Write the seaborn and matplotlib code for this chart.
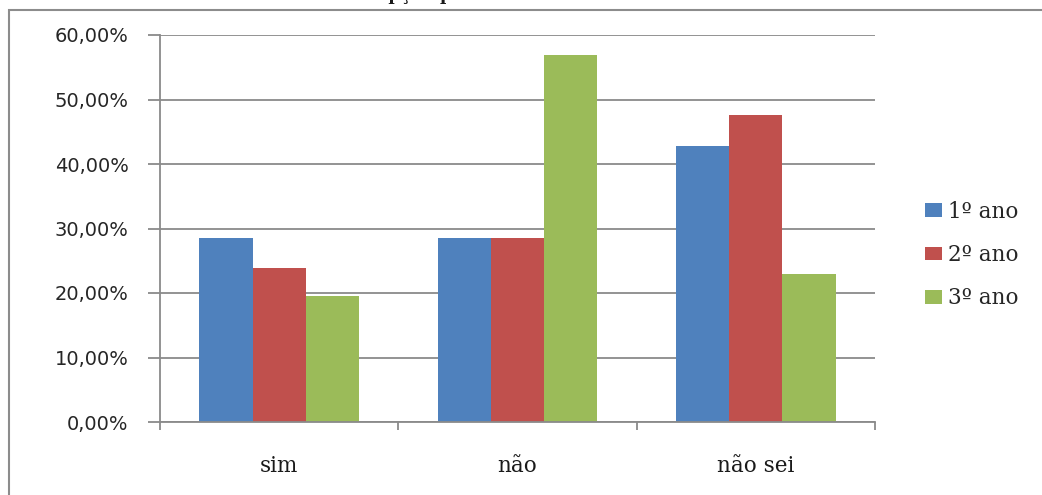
import matplotlib
matplotlib.use("Agg")
import matplotlib.pyplot as plt
import seaborn as sns
import pandas as pd
from matplotlib.ticker import FuncFormatter, FixedLocator
from matplotlib.patches import Rectangle

categories = ["sim", "não", "não sei"]
series = ["1º ano", "2º ano", "3º ano"]
ano1 = [28.57, 28.57, 42.86]
ano2 = [23.81, 28.57, 47.62]
ano3 = [19.5, 56.9, 22.9]
colors = ["#4F81BD", "#C0504D", "#9BBB59"]
yticks = [0, 10, 20, 30, 40, 50, 60]
title = "Gráfico 3 - Opção por área de trabalho no ensino médio"

rows = []
for s, vals in zip(series, [ano1, ano2, ano3]):
    for c, v in zip(categories, vals):
        rows.append({"cat": c, "serie": s, "val": v})
df = pd.DataFrame(rows)

sns.set_style("white")
plt.rcParams["font.family"] = ["DejaVu Sans"]

W, H = 1042, 495
fig = plt.figure(figsize=(W / 100, H / 100), dpi=100)
ax = fig.add_axes([160 / W, 1 - 422 / H, (875 - 160) / W, (422 - 35) / H])

sns.barplot(data=df, x="cat", y="val", hue="serie", order=categories,
            hue_order=series, palette=colors, saturation=1, width=0.67,
            linewidth=0, errorbar=None, ax=ax)

grid_c = "#8a8a8a"
ax.set_ylim(0, 60)
ax.set_xlim(-0.5, 2.5)
ax.yaxis.set_major_locator(FixedLocator(yticks))
ax.yaxis.set_major_formatter(FuncFormatter(lambda v, p: f"{v:.2f}%".replace(".", ",")))
ax.grid(axis="y", color=grid_c, linewidth=1.3, zorder=0)
ax.set_axisbelow(True)
for side in ["top", "right"]:
    ax.spines[side].set_visible(False)
for side in ["left", "bottom"]:
    ax.spines[side].set_color(grid_c)
    ax.spines[side].set_linewidth(1.3)

ax.tick_params(axis="y", which="major", length=8.6, width=1.3, color=grid_c,
               pad=14, labelsize=14, labelcolor="#262626", left=True)
ax.xaxis.set_minor_locator(FixedLocator([-0.5, 0.5, 1.5, 2.5]))
ax.tick_params(axis="x", which="minor", length=6, width=1.3, color=grid_c, bottom=True)
ax.tick_params(axis="x", which="major", length=0, pad=24, labelsize=15.5,
               labelcolor="#1a1a1a")
for lab in ax.get_xticklabels():
    lab.set_fontfamily("DejaVu Serif")
ax.set_xlabel("")
ax.set_ylabel("")

handles, labels = ax.get_legend_handles_labels()
ax.legend(handles, labels, loc="upper left", bbox_to_anchor=(925 / W, 1 - 201 / H),
          bbox_transform=fig.transFigure, frameon=False, borderpad=0,
          borderaxespad=0, handlelength=0.8, handleheight=0.62,
          handletextpad=0.28, labelspacing=0.98,
          prop={"family": "DejaVu Serif", "size": 15.5})

fig.patches.append(Rectangle((9 / W, -0.2), 1.2, 1.2 - 10 / H, transform=fig.transFigure,
                             fill=False, edgecolor="#8c8c8c", linewidth=1.5))
fig.text(535 / W, 1 - 0.5 / H, title, ha="center", va="baseline",
         fontsize=12.5, fontweight="bold", family="DejaVu Serif", color="#1a1a1a")

fig.savefig("out.png", dpi=100, facecolor="white")
